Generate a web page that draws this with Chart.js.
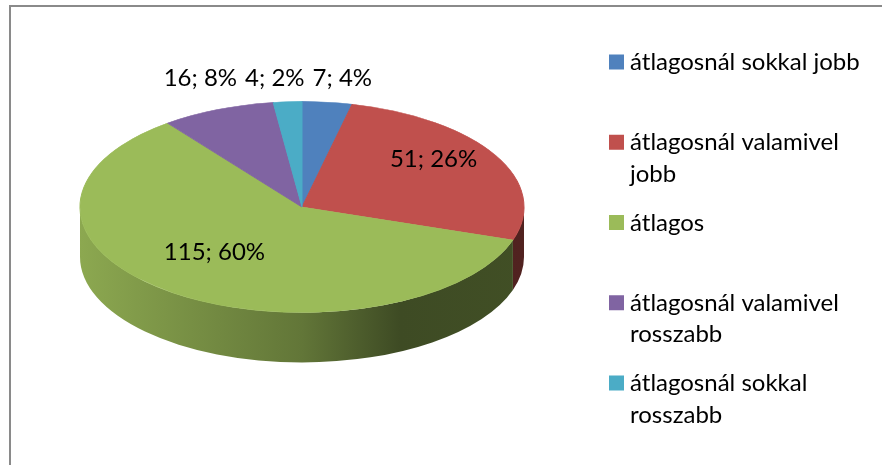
<!DOCTYPE html>
<html>
<head>
<meta charset="utf-8">
<script src="https://cdn.jsdelivr.net/npm/chart.js@4/dist/chart.umd.min.js"></script>
<style>
  html, body { margin: 0; padding: 0; background: #ffffff; }
  #wrap { position: relative; width: 882px; height: 465px; }
  canvas { display: block; }
</style>
</head>
<body>
<div id="wrap"><canvas id="c" width="882" height="465"></canvas></div>
<script>
// ---- data ----
const categories = ['átlagosnál sokkal jobb', 'átlagosnál valamivel jobb', 'átlagos', 'átlagosnál valamivel rosszabb', 'átlagosnál sokkal rosszabb'];
const legendLines = [['átlagosnál sokkal jobb'], ['átlagosnál valamivel', 'jobb'], ['átlagos'], ['átlagosnál valamivel', 'rosszabb'], ['átlagosnál sokkal', 'rosszabb']];
const values = [7, 51, 115, 16, 4];
const colors = ['#4f81bd', '#c0504d', '#9bbb59', '#8064a2', '#4bacc6'];

// ---- layout ----
const GEO = { cx: 302, cy: 207, rx: 222, ry: 105.5, depth: 50 };
const FONT = '24px Lato';
const LEGEND = { boxX: 609, boxSize: 15, textX: 630, firstBaseline: 70, step: 80.25, lineH: 31.5 };

function shade(hex, f) {
  const n = parseInt(hex.slice(1), 16);
  const r = Math.round(((n >> 16) & 255) * f), g = Math.round(((n >> 8) & 255) * f), b = Math.round((n & 255) * f);
  return `rgb(${r},${g},${b})`;
}

const total = values.reduce((a, b) => a + b, 0);

const pie3d = {
  id: 'pie3d',
  beforeDraw(chart) {
    const ctx = chart.ctx;
    ctx.save();
    ctx.strokeStyle = '#8a8a8a';
    ctx.lineWidth = 2;
    ctx.beginPath();
    ctx.moveTo(10, 470);
    ctx.lineTo(10, 6);
    ctx.lineTo(890, 6);
    ctx.stroke();
    ctx.restore();
  },
  beforeDatasetsDraw(chart) {
    const ctx = chart.ctx;
    const arcs = chart.getDatasetMeta(0).data;
    const { cx, cy, rx, ry, depth } = GEO;
    // side walls (front half only: canvas angles 0..PI)
    arcs.forEach((arc, i) => {
      const lo = Math.max(arc.startAngle, 0);
      const hi = Math.min(arc.endAngle, Math.PI);
      if (hi <= lo) return;
      const grad = ctx.createLinearGradient(cx - rx, 0, cx + rx, 0);
      grad.addColorStop(0, shade(colors[i], 0.9));
      grad.addColorStop(0.5, shade(colors[i], 0.63));
      grad.addColorStop(0.72, shade(colors[i], 0.4));
      grad.addColorStop(1, shade(colors[i], 0.42));
      ctx.save();
      ctx.beginPath();
      ctx.ellipse(cx, cy, rx, ry, 0, lo, hi, false);
      ctx.ellipse(cx, cy + depth, rx, ry, 0, hi, lo, true);
      ctx.closePath();
      ctx.fillStyle = grad;
      ctx.fill();
      ctx.restore();
    });
    // flatten the top face into an ellipse
    const a0 = arcs[0];
    const R = a0.outerRadius;
    ctx.save();
    ctx.translate(cx, cy);
    ctx.scale(rx / R, ry / R);
    ctx.translate(-a0.x, -a0.y);
  },
  afterDatasetsDraw(chart) {
    const ctx = chart.ctx;
    ctx.restore();
    const arcs = chart.getDatasetMeta(0).data;
    const { cx, cy, rx, ry } = GEO;
    ctx.save();
    ctx.font = FONT;
    ctx.fillStyle = '#000000';
    ctx.textAlign = 'center';
    ctx.textBaseline = 'alphabetic';
    const outside = [];
    arcs.forEach((arc, i) => {
      const pct = values[i] / total;
      const text = values[i] + '; ' + Math.round(pct * 100) + '%';
      const m = (arc.startAngle + arc.endAngle) / 2;
      if (pct >= 0.1) {
        const x = cx + 0.68 * rx * Math.cos(m);
        const y = cy - 0.13 * ry + 0.68 * ry * Math.sin(m);
        ctx.fillText(text, x, y + 8.5);
      } else {
        const w = ctx.measureText(text).width;
        outside.push({ text, x: cx + 1.2 * rx * Math.cos(m), w });
      }
    });
    outside.sort((a, b) => a.x - b.x);
    const gap = 8;
    for (let pass = 0; pass < 10; pass++) {
      for (let k = 1; k < outside.length; k++) {
        const A = outside[k - 1], B = outside[k];
        const d = (A.x + A.w / 2 + gap) - (B.x - B.w / 2);
        if (d > 0) { A.x -= d / 2; B.x += d / 2; }
      }
    }
    const rowBase = cy - ry - 15.5;
    outside.forEach(o => ctx.fillText(o.text, o.x, rowBase));
    ctx.restore();

    // legend
    ctx.save();
    ctx.font = FONT;
    ctx.textAlign = 'left';
    ctx.textBaseline = 'alphabetic';
    legendLines.forEach((lines, i) => {
      const base = LEGEND.firstBaseline + i * LEGEND.step;
      ctx.fillStyle = colors[i];
      ctx.fillRect(LEGEND.boxX, base - 15.5, LEGEND.boxSize, LEGEND.boxSize);
      ctx.fillStyle = '#000000';
      lines.forEach((ln, j) => ctx.fillText(ln, LEGEND.textX, base + j * LEGEND.lineH));
    });
    ctx.restore();
  }
};

new Chart(document.getElementById('c'), {
  type: 'pie',
  data: {
    labels: categories,
    datasets: [{
      data: values,
      backgroundColor: colors,
      borderColor: colors,
      borderWidth: 1,
      hoverOffset: 0,
      clip: false
    }]
  },
  options: {
    responsive: false,
    animation: false,
    events: [],
    layout: { padding: { left: 80, right: 358, top: 10, bottom: 11 } },
    plugins: { legend: { display: false }, tooltip: { enabled: false } }
  },
  plugins: [pie3d]
});
</script>
</body>
</html>
